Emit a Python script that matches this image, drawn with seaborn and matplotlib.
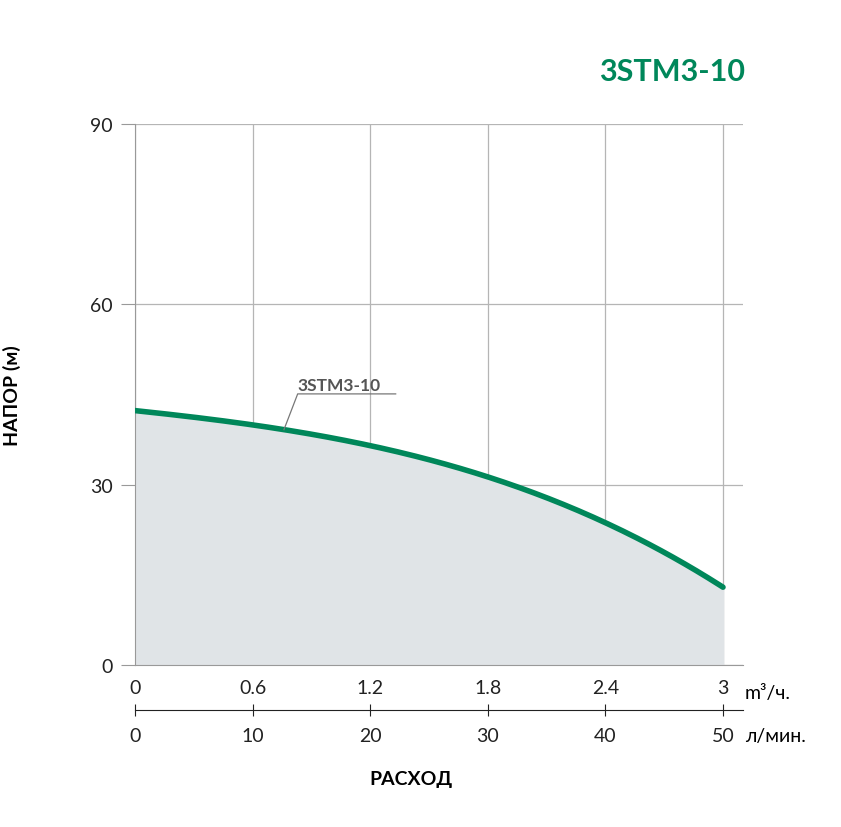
import matplotlib
matplotlib.use("Agg")
import matplotlib.pyplot as plt
import seaborn as sns
import numpy as np
import pandas as pd

flow_m3h = [0, 0.3, 0.6, 0.9, 1.2, 1.5, 1.8, 2.1, 2.4, 2.7, 3.0]
head_m = [42.2, 41.3, 40.1, 38.5, 36.4, 34.0, 31.1, 27.8, 24.0, 18.8, 12.8]
x_ticks_m3h = [0, 0.6, 1.2, 1.8, 2.4, 3]
x_tick_labels_m3h = ["0", "0.6", "1.2", "1.8", "2.4", "3"]
x_ticks_lmin = [0, 10, 20, 30, 40, 50]
y_ticks = [0, 30, 60, 90]
model = "3STM3-10"

plt.rcParams["font.family"] = "Lato"
green = "#00875a"
W, H = 841, 828
fig = plt.figure(figsize=(W/100, H/100), dpi=100)
L, R, T, B = 135, 743, 125, 666
ax = fig.add_axes([L/W, 1-B/H, (R-L)/W, (B-T)/H])
xmax = 3.0 * (R - L) / (723 - L)

xs = np.linspace(0, 3, 200)
ys = np.interp(xs, flow_m3h, head_m)
# smooth via polynomial fit of read points
coef = np.polyfit(flow_m3h, head_m, 3)
ys = np.polyval(coef, xs)
ax.fill_between(xs, 0, ys, color="#e0e4e7", zorder=1)
df = pd.DataFrame({"q": xs, "h": ys})
sns.lineplot(data=df, x="q", y="h", ax=ax, color=green, lw=4, zorder=3,
             solid_capstyle="round")

ax.set_xlim(0, xmax)
ax.set_ylim(0, 90)
ax.set_xticks(x_ticks_m3h)
ax.set_xticklabels(x_tick_labels_m3h, fontsize=14, color="#222222")
ax.set_yticks(y_ticks)
ax.set_yticklabels([str(v) for v in y_ticks], fontsize=14, color="#222222")
ax.grid(True, color="#b5b5b5", lw=0.9, zorder=0)
ax.set_axisbelow(True)
for s in ["top", "right"]:
    ax.spines[s].set_visible(False)
for s in ["left", "bottom"]:
    ax.spines[s].set_color("#999999")
ax.tick_params(axis="y", length=10, color="#999999", pad=6)
ax.tick_params(axis="x", length=0, pad=10)
ax.set_xlabel("")
ax.set_ylabel("НАПОР (м)", fontsize=14, fontweight="bold", labelpad=50)
ax.text(xmax + 0.0, -3, "", transform=ax.transData)
fig.text(745/W, 1-693/H, "m³/ч.", fontsize=14, va="center", ha="left")

# annotation
x_pt = 0.76
y_pt = np.polyval(coef, x_pt)
ax.plot([x_pt, 0.83, 1.33], [y_pt, 39.5 + 5.6, 39.5 + 5.6], color="#777777", lw=0.9, zorder=4)
ax.text(0.83, 39.5 + 6.3, model, fontsize=12.5, fontweight="bold", color="#555555", zorder=4)

# secondary axis
ax2 = fig.add_axes([L/W, 1-711/H, (R-L)/W, 0.0001])
ax2.set_xlim(0, xmax * 50 / 3)
ax2.set_yticks([])
for s in ["top", "right", "left"]:
    ax2.spines[s].set_visible(False)
ax2.spines["bottom"].set_color("#222222")
ax2.set_xticks(x_ticks_lmin)
ax2.set_xticklabels([str(v) for v in x_ticks_lmin], fontsize=14, color="#222222")
ax2.tick_params(axis="x", length=8, direction="inout", color="#222222", pad=8)
ax2.patch.set_visible(False)
fig.text(745/W, 1-737/H, "л/мин.", fontsize=14, va="center", ha="left")
fig.text(411/W, 1-780/H, "РАСХОД", fontsize=14, fontweight="bold", ha="center", va="center")
fig.text(745/W, 1-72/H, model, fontsize=22, fontweight="bold", color=green, ha="right", va="center")

fig.savefig("out.png", dpi=100)
